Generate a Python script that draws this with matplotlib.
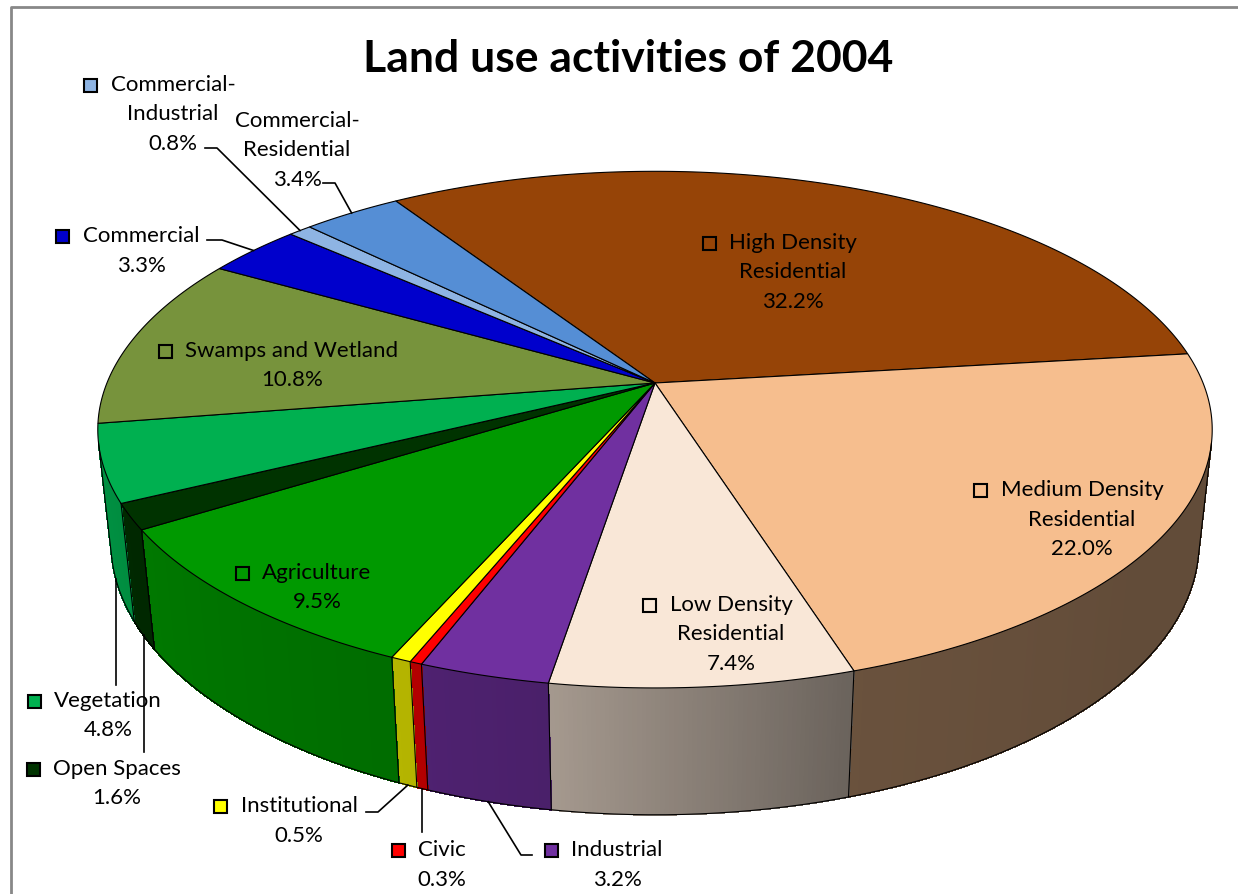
import numpy as np
import matplotlib.pyplot as plt
from matplotlib.patches import Polygon, Rectangle
from matplotlib.collections import PolyCollection
from matplotlib.colors import to_rgb

# slices, clockwise from the top-left edge of High Density Residential
names = ['High Density Residential', 'Medium Density Residential', 'Low Density Residential',
         'Industrial', 'Civic', 'Institutional', 'Agriculture', 'Open Spaces', 'Vegetation',
         'Swamps and Wetland', 'Commercial', 'Commercial-Industrial', 'Commercial-Residential']
values = [32.2, 22.0, 7.4, 3.2, 0.3, 0.5, 9.5, 1.6, 4.8, 10.8, 3.3, 0.8, 3.4]
colors = ['#964407', '#F6BE8E', '#F9E7D7', '#7030A0', '#FF0000', '#FFFF00', '#009900',
          '#003300', '#00B050', '#77933C', '#0000CC', '#8EB4E3', '#558ED5']
label_lines = [['High Density', 'Residential'], ['Medium Density', 'Residential'],
               ['Low Density', 'Residential'], ['Industrial'], ['Civic'], ['Institutional'],
               ['Agriculture'], ['Open Spaces'], ['Vegetation'], ['Swamps and Wetland'],
               ['Commercial'], ['Commercial-', 'Industrial'], ['Commercial-', 'Residential']]
title = 'Land use activities of 2004'

FONT = ['Lato', 'DejaVu Sans']
plt.rcParams['font.family'] = FONT

W, H_PX = 1238, 894
fig = plt.figure(figsize=(W / 100, H_PX / 100), dpi=100)
ax = fig.add_axes([0, 0, 1, 1])
ax.set_xlim(0, W)
ax.set_ylim(H_PX, 0)
ax.axis('off')

# simple perspective camera for the 3-D pie
CX, CY = 655, 383
SX, SY = 2680, 2600
DIST = 4.89
EL = np.arcsin(0.47)
THICK = 0.243
START = 123.0


def proj(t, z=0.0):
    t = np.radians(t)
    x, y = np.cos(t), np.sin(t)
    depth = y * np.cos(EL) - z * np.sin(EL) + DIST
    up = y * np.sin(EL) + z * np.cos(EL)
    return CX + SX * x / depth, CY - SY * up / depth


vals = np.array(values)
edges = START - 360 * np.concatenate([[0], np.cumsum(vals / vals.sum())])
mids = (edges[:-1] + edges[1:]) / 2

# visible part of the rim
k = np.degrees(np.arcsin(1 / (DIST * np.cos(EL))))
tmin, tmax = -180 + k, -k


def shade(t):
    return np.interp(t, [-180, -150, -114, -99, -73, -40, 0],
                     [0.85, 0.79, 0.71, 0.66, 0.43, 0.40, 0.40])


# side walls
quads, qcols = [], []
for i in range(len(vals)):
    a0, a1 = edges[i], edges[i + 1]
    lo, hi = max(a1, tmin), min(a0, tmax)
    if lo >= hi:
        continue
    ts = np.linspace(hi, lo, max(2, int((hi - lo) / 0.4) + 2))
    base = np.array(to_rgb(colors[i]))
    for ta, tb in zip(ts[:-1], ts[1:]):
        q = [proj(ta), proj(tb), proj(tb, -THICK), proj(ta, -THICK)]
        quads.append(q)
        qcols.append(base * shade((ta + tb) / 2))
ax.add_collection(PolyCollection(quads, facecolors=qcols, edgecolors=qcols,
                                 linewidths=0.6, antialiaseds=False))

# wall outlines
tt = np.linspace(tmin, tmax, 400)
bx, by = proj(tt, -THICK)
ax.plot(bx, by, color='black', lw=0.8)
for t in [tmin, tmax] + [e for e in edges if tmin < e < tmax]:
    p0, p1 = proj(t), proj(t, -THICK)
    ax.plot([p0[0], p1[0]], [p0[1], p1[1]], color='black', lw=0.8)

# top faces
for i in range(len(vals)):
    ts = np.linspace(edges[i], edges[i + 1], max(3, int(abs(edges[i] - edges[i + 1])) * 2))
    px, py = proj(ts)
    pts = np.column_stack([np.r_[CX, px], np.r_[CY, py]])
    ax.add_patch(Polygon(pts, closed=True, facecolor=colors[i], edgecolor='black', lw=0.8))

# data labels: (slice index, text centre x, first line y, show key)
labels = [(0, 793, 243, True), (1, 1082, 490, True), (2, 731, 605, True),
          (3, 617, 850, True), (4, 442, 850, True), (5, 299, 806, True),
          (6, 317, 573, True), (7, 117, 769, True), (8, 108, 701, True),
          (9, 292, 351, True), (10, 141, 236, True), (11, 173, 85, True),
          (12, 297, 121, False)]
LINE = 29.5
FS = 16
fig.canvas.draw()
rend = fig.canvas.get_renderer()
for idx, x, y, key in labels:
    lines = label_lines[idx] + ['%.1f%%' % values[idx]]
    for j, s in enumerate(lines):
        t = ax.text(x, y + j * LINE, s, ha='center', va='center', fontsize=FS, color='black')
        if j == 0 and key:
            w = t.get_window_extent(rend).width
            kx = x - w / 2 - 20
            ax.add_patch(Rectangle((kx - 6.5, y - 6.5), 13, 13, facecolor=colors[idx],
                                   edgecolor='black', lw=1.5, zorder=5))

# leader lines: (slice index, z on the pie, points from the label side)
leaders = [(11, 0.0, [(205, 148), (217, 148)]),
           (12, 0.0, [(323, 183), (335, 183)]),
           (10, 0.0, [(207, 240), (222, 240)]),
           (5, -THICK, [(366, 812), (378, 812)]),
           (3, -THICK, [(532, 855), (521, 855)])]
for idx, z, pts in leaders:
    px, py = proj(mids[idx], z)
    xs = [p[0] for p in pts] + [px]
    ys = [p[1] for p in pts] + [py]
    ax.plot(xs, ys, color='black', lw=1.2)
for idx, yend in [(8, 685), (7, 752), (4, 832)]:
    px, py = proj(mids[idx], -THICK)
    ax.plot([px, px], [py, yend], color='black', lw=1.2)

ax.text(628, 59, title, ha='center', va='center', fontsize=32, fontweight='bold')

# chart border
ax.plot([11, 11, W + 5], [H_PX + 5, 7, 7], color='#888888', lw=2)

fig.savefig('out.png', dpi=100)
